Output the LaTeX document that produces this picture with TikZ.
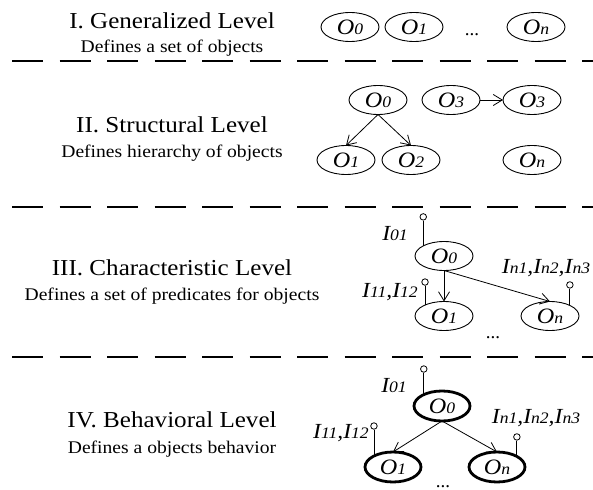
\documentclass[tikz,border=0pt]{standalone}
\usepackage{fontspec}
\setmainfont{Liberation Serif}
\usepackage{graphicx}
\usetikzlibrary{shapes.geometric,arrows.meta}
\newcommand\hs[1]{\scalebox{1.1}[1]{#1}}
\newcommand\sbx[1]{{\fontsize{16bp}{17bp}\selectfont #1}}
\newcommand\ob[1]{\hs{O\sbx{#1}}}
\newcommand\ib[1]{I\sbx{#1}}
\begin{document}
\begin{tikzpicture}[x=1bp,y=-1bp,
  obj/.style={draw, ellipse, minimum width=58bp, minimum height=29bp, inner sep=0pt, outer sep=0pt, line width=0.9bp, font=\fontsize{22bp}{23bp}\selectfont\itshape},
  bobj/.style={obj, line width=2.8bp, minimum width=56bp, minimum height=30bp},
  ttl/.style={anchor=base, inner sep=0pt, font=\fontsize{22.8bp}{24bp}\selectfont},
  subt/.style={anchor=base, inner sep=0pt, font=\fontsize{17.8bp}{19bp}\selectfont},
  lbl/.style={anchor=base, inner sep=0pt, font=\fontsize{21.5bp}{22bp}\selectfont\itshape},
  dots/.style={anchor=base, inner sep=0pt, font=\fontsize{19bp}{20bp}\selectfont},
  pinc/.style={draw, circle, fill=white, minimum size=6.5bp, inner sep=0pt, line width=0.8bp},
  pinl/.style={line width=0.8bp},
  arr/.style={-{Straight Barb[length=9bp,width=11bp]}, line width=0.8bp},
  sep/.style={line width=2.2bp, dash pattern=on 31bp off 16.5bp}
]
\useasboundingbox (0,0) rectangle (593,490);
% separators
\draw[sep] (12,61) -- (593,61);
\draw[sep] (12,207) -- (593,207);
\draw[sep] (12,357) -- (593,357);
% titles
\node[ttl] (t1) at (172,28.5) {\hs{I. Generalized Level}};
\node[subt] (s1) at (172,53) {\hs{Defines a set of objects}};
\node[ttl] (t2) at (172,133) {\hs{II. Structural Level}};
\node[subt] (s2) at (172,158) {\hs{Defines hierarchy of objects}};
\node[ttl] (t3) at (172,275) {\hs{III. Characteristic Level}};
\node[subt] (s3) at (172,300) {\hs{Defines a set of predicates for objects}};
\node[ttl] (t4) at (172,427) {\hs{IV. Behavioral Level}};
\node[subt] (s4) at (172,453) {\hs{Defines a objects behavior}};
% level I
\node[obj] (a0) at (350,27) {\ob{0}};
\node[obj] (a1) at (414,27) {\ob{1}};
\node[dots] (ad) at (472,36) {...};
\node[obj] (an) at (536,27) {\ob{n}};
% level II
\node[obj] (b0) at (378,100) {\ob{0}};
\node[obj] (b3) at (451,100) {\ob{3}};
\node[obj] (b3b) at (532,100) {\ob{3}};
\node[obj] (b1) at (346,160) {\ob{1}};
\node[obj] (b2) at (411,160) {\ob{2}};
\node[obj] (bn) at (532,160) {\ob{n}};
\draw[arr] (b0.south) -- (b1.north);
\draw[arr] (b0.south) -- (b2.north);
\draw[arr] (b3) -- (b3b);
% level III
\node[obj] (c0) at (444,256) {\ob{0}};
\node[obj] (c1) at (444,316) {\ob{1}};
\node[obj] (cn) at (550,316) {\ob{n}};
\node[dots] (cd) at (493,338) {...};
\draw[arr] (c0.south) -- (c1.north);
\draw[arr] (c0.south) -- (cn.north);
\node[pinc] (cp0) at ([yshift=29bp]c0.154) {};
\draw[pinl] (cp0) -- (c0.154);
\node[pinc] (cp1) at ([yshift=23bp]c1.150) {};
\draw[pinl] (cp1) -- (c1.150);
\node[pinc] (cpn) at ([yshift=20.5bp]cn.28) {};
\draw[pinl] (cpn) -- (cn.28);
\node[lbl] (cl0) at (395,240) {\hs{\ib{01}}};
\node[lbl] (cl1) at (390,297) {\hs{\ib{11},\ib{12}}};
\node[lbl] (cln) at (546,273) {\hs{\ib{n1},\ib{n2},\ib{n3}}};
% level IV
\node[bobj] (d0) at (442,406) {\ob{0}};
\node[bobj] (d1) at (393,467) {\ob{1}};
\node[bobj] (dn) at (497,467) {\ob{n}};
\node[dots] (dd) at (443,487) {...};
\draw[arr] (d0.south) -- (d1.north);
\draw[arr] (d0.south) -- (dn.north);
\node[pinc] (dp0) at ([yshift=25.6bp]d0.148) {};
\draw[pinl] (dp0) -- (d0.148);
\node[pinc] (dp1) at ([yshift=30bp]d1.150) {};
\draw[pinl] (dp1) -- (d1.150);
\node[pinc] (dpn) at ([yshift=19.5bp]dn.28) {};
\draw[pinl] (dpn) -- (dn.28);
\node[lbl] (dl0) at (394,392) {\hs{\ib{01}}};
\node[lbl] (dl1) at (341,438) {\hs{\ib{11},\ib{12}}};
\node[lbl] (dln) at (536,423) {\hs{\ib{n1},\ib{n2},\ib{n3}}};
\end{tikzpicture}
\end{document}
